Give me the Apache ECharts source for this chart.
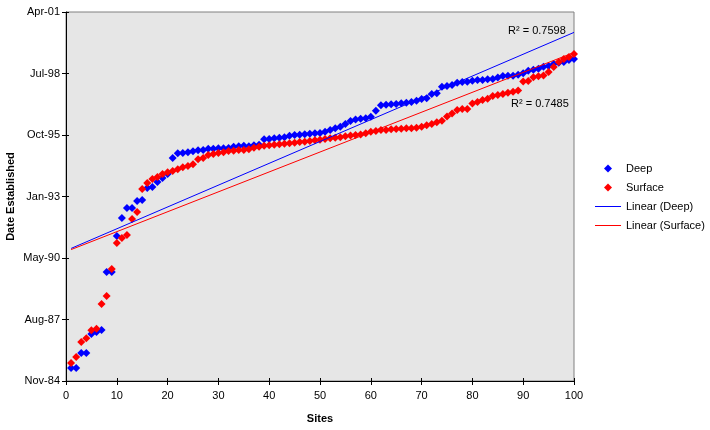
<!DOCTYPE html>
<html>
<head>
<meta charset="utf-8">
<script src="https://cdn.jsdelivr.net/npm/echarts@6/dist/echarts.min.js"></script>
<style>
html,body{margin:0;padding:0;background:#fff;}
#chart{width:710px;height:430px;}
</style>
</head>
<body>
<div id="chart"></div>
<script>
// Sites 1..100, dates as Excel serial day numbers
const sites = Array.from({length: 100}, (_, i) => i + 1);
const deep = [
31211,31211,31455,31455,31764,31797,31829,32772,32772,33358,
33650,33813,33813,33927,33943,34138,34154,34236,34301,34366,
34626,34702,34707,34719,34735,34751,34756,34777,34777,34784,
34784,34789,34810,34816,34826,34816,34832,34842,34930,34935,
34946,34956,34963,34989,35000,35005,35011,35021,35028,35032,
35054,35081,35109,35135,35179,35228,35252,35265,35271,35297,
35395,35483,35493,35499,35504,35515,35525,35537,35558,35585,
35597,35667,35678,35785,35797,35813,35850,35862,35867,35883,
35894,35894,35906,35911,35935,35959,35964,35964,35980,36003,
36045,36062,36078,36111,36122,36154,36176,36187,36219,36236
];
const surface = [
31293,31390,31634,31694,31824,31850,32252,32382,32821,33244,
33325,33374,33634,33748,34122,34219,34285,34317,34366,34394,
34415,34442,34475,34496,34524,34605,34626,34675,34691,34707,
34719,34740,34745,34756,34756,34767,34794,34810,34826,34832,
34842,34849,34859,34865,34875,34886,34891,34902,34914,34924,
34935,34946,34956,34963,34979,34992,35000,35008,35028,35054,
35065,35081,35081,35093,35098,35102,35109,35109,35119,35135,
35158,35179,35206,35233,35301,35350,35406,35423,35423,35512,
35537,35569,35590,35634,35650,35667,35688,35704,35724,35870,
35878,35938,35954,35967,36024,36106,36187,36236,36268,36317
];
const yTickLabels = ['Nov-84','Aug-87','May-90','Jan-93','Oct-95','Jul-98','Apr-01'];
const yMin = 31000, yStep = 1000;
const r2Deep = 'R² = 0.7598';
const r2Surface = 'R² = 0.7485';

function linFit(xs, ys) {
  const n = xs.length;
  let sx = 0, sy = 0, sxx = 0, sxy = 0;
  for (let i = 0; i < n; i++) { sx += xs[i]; sy += ys[i]; sxx += xs[i]*xs[i]; sxy += xs[i]*ys[i]; }
  const b = (n*sxy - sx*sy) / (n*sxx - sx*sx);
  const a = (sy - b*sx) / n;
  const x0 = xs[0], x1 = xs[n-1];
  return [[x0, a + b*x0], [x1, a + b*x1]];
}

const FONT = 'Liberation Sans, Arial, sans-serif';
const BLUE = '#0000FF', RED = '#FF0000';
const DIAMOND_ICON = 'path://M0,0M26,8M13,0L17,4L13,8L9,4Z';
const LINE_ICON = 'path://M0,0M26,8M0,3.5L26,3.5L26,4.5L0,4.5Z';
function legendItem(name, icon, color) {
  return {name: name, icon: icon,
          itemStyle: {color: color, opacity: 1, borderColor: 'none', borderWidth: 0},
          lineStyle: {color: color, width: 0}};
}
const chart = echarts.init(document.getElementById('chart'), null, {renderer: 'canvas'});
const axisCommon = {
  axisLine: {show: true, lineStyle: {color: '#000', width: 1}},
  splitLine: {show: false}
};
chart.setOption({
  animation: false,
  backgroundColor: '#fff',
  textStyle: {fontFamily: FONT},
  grid: {left: 66, top: 12, width: 508, height: 369, show: true, containLabel: false,
         outerBoundsMode: 'none',
         backgroundColor: '#E6E6E6', borderColor: '#808080', borderWidth: 1},
  xAxis: [
    Object.assign({}, axisCommon, {
      type: 'value', min: 0, max: 100, interval: 10,
      axisTick: {show: true, inside: false, length: 4, lineStyle: {color: '#000'}},
      axisLabel: {color: '#000', fontSize: 11, fontFamily: FONT, margin: 9},
      name: 'Sites', nameLocation: 'middle', nameGap: 32,
      nameTextStyle: {color: '#000', fontSize: 11, fontWeight: 'bold', fontFamily: FONT}
    }),
    {type: 'value', min: 0, max: 100, interval: 10, position: 'bottom',
     axisLine: {show: false}, axisLabel: {show: false}, splitLine: {show: false},
     axisTick: {show: true, inside: true, length: 3, lineStyle: {color: '#000'}}}
  ],
  yAxis: [
    Object.assign({}, axisCommon, {
      type: 'value', min: yMin, max: yMin + yStep*(yTickLabels.length-1), interval: yStep,
      axisTick: {show: true, inside: false, length: 4, lineStyle: {color: '#000'}},
      axisLabel: {color: '#000', fontSize: 11, fontFamily: FONT, margin: 6,
                  formatter: v => yTickLabels[Math.round((v - yMin)/yStep)] || ''},
      name: 'Date Established', nameLocation: 'middle', nameGap: 50, nameRotate: 90,
      nameMoveOverlap: false,
      nameTextStyle: {color: '#000', fontSize: 11, fontWeight: 'bold', fontFamily: FONT}
    }),
    {type: 'value', min: yMin, max: yMin + yStep*(yTickLabels.length-1), interval: yStep, position: 'left',
     axisLine: {show: false}, axisLabel: {show: false}, splitLine: {show: false},
     axisTick: {show: true, inside: true, length: 3, lineStyle: {color: '#000'}}}
  ],
  legend: {
    orient: 'vertical', left: 595, top: 163, padding: 0,
    itemWidth: 26, itemHeight: 8, itemGap: 8,
    textStyle: {color: '#000', fontSize: 11, fontFamily: FONT},
    data: [
      legendItem('Deep', DIAMOND_ICON, BLUE),
      legendItem('Surface', DIAMOND_ICON, RED),
      legendItem('Linear (Deep)', LINE_ICON, BLUE),
      legendItem('Linear (Surface)', LINE_ICON, RED)
    ]
  },
  series: [
    {name: 'Deep', type: 'scatter', symbol: 'diamond', symbolSize: 8,
     itemStyle: {color: BLUE, opacity: 1}, data: sites.map((s, i) => [s, deep[i]])},
    {name: 'Surface', type: 'scatter', symbol: 'diamond', symbolSize: 8,
     itemStyle: {color: RED, opacity: 1}, data: sites.map((s, i) => [s, surface[i]])},
    {name: 'Linear (Deep)', type: 'line', symbol: 'none', silent: true,
     lineStyle: {color: BLUE, width: 1}, itemStyle: {color: BLUE},
     data: linFit(sites, deep)},
    {name: 'Linear (Surface)', type: 'line', symbol: 'none', silent: true,
     lineStyle: {color: RED, width: 1}, itemStyle: {color: RED},
     data: linFit(sites, surface)}
  ],
  graphic: [
    {type: 'text', left: 508, top: 25, style: {text: r2Deep, fill: '#000', font: '11px ' + FONT}},
    {type: 'text', left: 511, top: 98, style: {text: r2Surface, fill: '#000', font: '11px ' + FONT}}
  ]
});
</script>
</body>
</html>
